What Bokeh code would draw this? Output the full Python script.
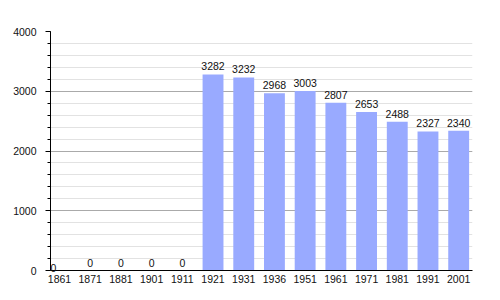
from bokeh.plotting import figure
from bokeh.models import ColumnDataSource, FixedTicker, Range1d
from bokeh.embed import file_html
from bokeh.resources import INLINE
from bokeh.core.properties import value

years = ["1861", "1871", "1881", "1901", "1911", "1921", "1931", "1936",
         "1951", "1961", "1971", "1981", "1991", "2001"]
population = [0, 0, 0, 0, 0, 3282, 3232, 2968, 3003, 2807, 2653, 2488, 2327, 2340]
y_ticks = [0, 1000, 2000, 3000, 4000]

idx = list(range(len(years)))
x_off = [-6] + [0] * (len(years) - 1)
y_off = [1] + [-4] * (len(years) - 1)
src = ColumnDataSource(dict(x=idx, pop=population, lab=[str(v) for v in population],
                            xo=x_off, yo=y_off))

FONT = "Liberation Sans"
FS = "10.5px"

p = figure(width=500, height=300, output_backend="svg", toolbar_location=None,
           x_range=Range1d(-0.293, 13.45), y_range=Range1d(0, 4000),
           min_border_left=50, min_border_right=28, min_border_top=31, min_border_bottom=30)
p.outline_line_color = None
p.background_fill_color = "white"

p.vbar(x="x", top="pop", width=0.68, source=src, color="#99aaff", line_color=None)
p.text(x="x", y="pop", text="lab", source=src, x_offset="xo", y_offset="yo",
       text_align="center", text_baseline="bottom", text_font=value(FONT),
       text_font_size=FS, text_color="#111111", level="overlay")

# y axis
p.yaxis.ticker = FixedTicker(ticks=y_ticks, minor_ticks=list(range(0, 4001, 200)))
p.yaxis.major_tick_out = 5
p.yaxis.major_tick_in = 0
p.yaxis.minor_tick_out = 3
p.yaxis.minor_tick_in = 0
p.yaxis.axis_line_color = "black"
p.yaxis.major_tick_line_color = "black"
p.yaxis.minor_tick_line_color = "black"
p.yaxis.major_label_standoff = 9
p.yaxis.major_label_text_font = FONT
p.yaxis.major_label_text_font_size = FS
p.yaxis.major_label_text_color = "#111111"

# x axis
p.xaxis.ticker = FixedTicker(ticks=idx)
p.xaxis.major_label_overrides = {i: y for i, y in enumerate(years)}
p.xaxis.major_tick_line_color = None
p.xaxis.minor_tick_line_color = None
p.xaxis.major_tick_out = 0
p.xaxis.major_tick_in = 0
p.xaxis.axis_line_color = "black"
p.xaxis.major_label_standoff = 4
p.xaxis.major_label_text_font = FONT
p.xaxis.major_label_text_font_size = FS
p.xaxis.major_label_text_color = "#111111"

# grids
p.xgrid.grid_line_color = None
p.ygrid.grid_line_color = "#aaaaaa"
p.ygrid.minor_grid_line_color = "#e2e2e2"
p.ygrid.level = "underlay"

open("out.html", "w").write(file_html(p, INLINE))
